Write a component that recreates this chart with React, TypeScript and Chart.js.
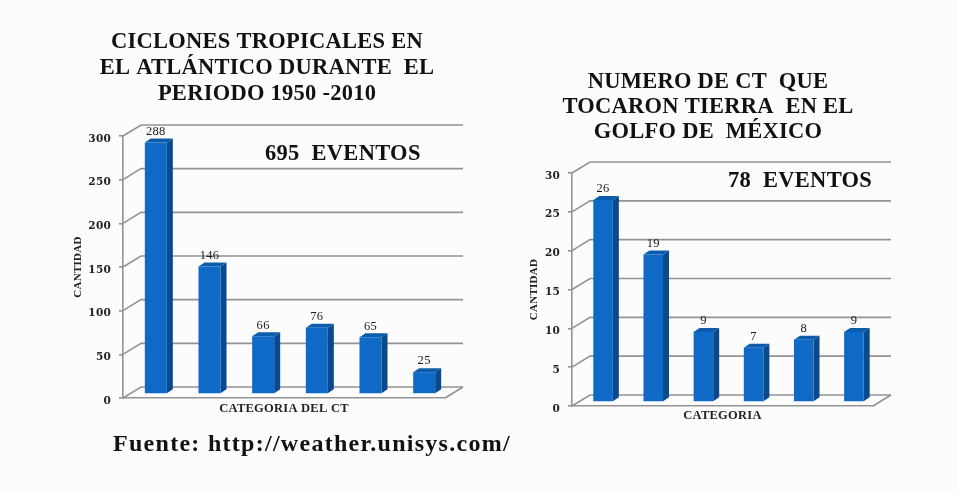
import React, { useEffect, useRef } from "react";
import { Chart, registerables } from "chart.js";

Chart.register(...registerables);

const SERIF = '"Liberation Serif", serif';
const TICK_SERIF = '"DejaVu Serif", serif';
const GRID = "#939393";
const DX = 6;
const DY = -4;
const WALL_X = 18;
const WALL_Y = -11;

const categoriesA = ["1", "2", "3", "4", "5", "6"];
const valuesA = [288, 146, 66, 76, 65, 25];
const titleA = ["CICLONES TROPICALES EN", "EL ATLÁNTICO DURANTE  EL", "PERIODO 1950 -2010"];
const noteA = "695  EVENTOS";

const categoriesB = ["1", "2", "3", "4", "5", "6"];
const valuesB = [26, 19, 9, 7, 8, 9];
const titleB = ["NUMERO DE CT  QUE", "TOCARON TIERRA  EN EL", "GOLFO DE  MÉXICO"];
const noteB = "78  EVENTOS";

const sketch3d = {
  id: "sketch3d",
  afterLayout(chart: any, _a: any, o: any) {
    const t = chart.titleBlock;
    if (t) {
      t.left = o.titleCenter - 300;
      t.right = o.titleCenter + 300;
      t.width = 600;
    }
  },
  beforeDraw(chart: any) {
    chart.ctx.letterSpacing = "0.25px";
  },
  beforeDatasetsDraw(chart: any) {
    const { ctx, chartArea: ca, scales } = chart;
    const y = scales.y;
    ctx.save();
    ctx.strokeStyle = GRID;
    ctx.lineWidth = 1.6;
    y.ticks.forEach((t: any) => {
      const p = y.getPixelForValue(t.value);
      ctx.beginPath();
      ctx.moveTo(ca.left, p);
      ctx.lineTo(ca.left + WALL_X, p + WALL_Y);
      ctx.lineTo(ca.right + WALL_X, p + WALL_Y);
      ctx.stroke();
    });
    const b = y.getPixelForValue(0);
    ctx.beginPath();
    ctx.moveTo(ca.right, b);
    ctx.lineTo(ca.right + WALL_X, b + WALL_Y);
    ctx.stroke();

    chart.getDatasetMeta(0).data.forEach((bar: any) => {
      const l = bar.x - bar.width / 2 + DX;
      const r = bar.x + bar.width / 2 + DX;
      const top = bar.y + DY;
      const bot = bar.base + DY;
      ctx.fillStyle = "#0a4a8c";
      ctx.beginPath();
      ctx.moveTo(r, top);
      ctx.lineTo(r + DX, top + DY);
      ctx.lineTo(r + DX, bot + DY);
      ctx.lineTo(r, bot);
      ctx.closePath();
      ctx.fill();
      ctx.fillStyle = "#0c5cac";
      ctx.beginPath();
      ctx.moveTo(l, top);
      ctx.lineTo(l + DX, top + DY);
      ctx.lineTo(r + DX, top + DY);
      ctx.lineTo(r, top);
      ctx.closePath();
      ctx.fill();
    });
    ctx.restore();
    ctx.save();
    ctx.translate(DX, DY);
  },
  afterDatasetsDraw(chart: any, _a: any, o: any) {
    const { ctx } = chart;
    ctx.restore();
    ctx.save();
    ctx.fillStyle = "#1a1a1a";
    ctx.textAlign = "center";
    ctx.textBaseline = "middle";
    ctx.letterSpacing = "0.3px";
    ctx.font = `12.5px ${SERIF}`;
    const vals = chart.data.datasets[0].data;
    chart.getDatasetMeta(0).data.forEach((bar: any, i: number) => {
      ctx.fillText(String(vals[i]), bar.x + DX, bar.y + 2 * DY - 7);
    });
    ctx.fillStyle = "#111";
    ctx.textAlign = "left";
    ctx.letterSpacing = "0.3px";
    ctx.font = `bold 22.5px ${SERIF}`;
    ctx.fillText(o.note, o.noteX, o.noteY);
    ctx.restore();
  },
};

function makeChart(canvas: HTMLCanvasElement, p: any) {
  return new Chart(canvas, {
    type: "bar",
    data: {
      labels: p.categories,
      datasets: [
        {
          data: p.values,
          backgroundColor: "#0f69c6",
          borderWidth: 0,
          categoryPercentage: 1,
          barPercentage: p.barPct,
          clip: false as any,
        },
      ],
    },
    plugins: [sketch3d],
    options: {
      responsive: false,
      animation: false,
      layout: { padding: { right: p.padRight, left: 0, top: 0, bottom: 0 }, autoPadding: false },
      plugins: {
        legend: { display: false },
        tooltip: { enabled: false },
        title: {
          display: true,
          text: p.title,
          color: "#111",
          font: { family: SERIF, size: 22.5, weight: "bold", lineHeight: p.titleLine / 22.5 },
          padding: { top: p.titleTop, bottom: p.titleBottom },
        },
        sketch3d: { note: p.note, noteX: p.noteX, noteY: p.noteY, titleCenter: p.titleCenter },
      } as any,
      scales: {
        x: {
          afterFit: (s: any) => { s.height = p.xHeight; },
          grid: { display: false },
          border: { display: true, color: GRID, width: 1.6 },
          ticks: { display: false },
          title: {
            display: true,
            text: p.xTitle,
            color: "#222",
            font: { family: SERIF, size: 12.5, weight: "bold" },
            padding: { top: 4, bottom: p.xTitlePad },
          },
        },
        y: {
          min: 0,
          max: p.max,
          afterFit: (s: any) => { s.width = p.yWidth; },
          grid: { drawOnChartArea: false, drawTicks: true, tickLength: 4, color: GRID, lineWidth: 1.6 },
          border: { display: true, color: GRID, width: 1.6 },
          ticks: {
            stepSize: p.step,
            color: "#222",
            padding: 8,
            font: { family: TICK_SERIF, size: 10.5, weight: "bold", lineHeight: 0.55 },
            callback: (v: any) => ["", String(v)],
          },
          title: {
            display: true,
            text: "CANTIDAD",
            color: "#222",
            font: { family: SERIF, size: 11, weight: "bold" },
            padding: { top: p.yTitlePad, bottom: 0 },
          },
        },
      },
    } as any,
  });
}

export default function App() {
  const a = useRef<HTMLCanvasElement>(null);
  const b = useRef<HTMLCanvasElement>(null);
  useEffect(() => {
    const c1 = makeChart(a.current!, {
      categories: categoriesA, values: valuesA, max: 300, step: 50, title: titleA,
      titleTop: 29, titleBottom: 29, titleLine: 26, titleCenter: 207,
      padRight: 27, yWidth: 63, xHeight: 42, xTitlePad: 24,
      xTitle: "CATEGORIA DEL CT", yTitlePad: 12, barPct: 0.41,
      note: noteA, noteX: 205, noteY: 154.5,
    });
    const c2 = makeChart(b.current!, {
      categories: categoriesB, values: valuesB, max: 30, step: 5, title: titleB,
      titleTop: 69.5, titleBottom: 28.5, titleLine: 25, titleCenter: 188,
      padRight: 23, yWidth: 52, xHeight: 34, xTitlePad: 17,
      xTitle: "CATEGORIA", yTitlePad: 8, barPct: 0.39,
      note: noteB, noteX: 208, noteY: 181.5,
    });
    return () => { c1.destroy(); c2.destroy(); };
  }, []);
  const soft = { position: "absolute" as const, filter: "blur(0.4px)" };
  return (
    <div style={{ position: "fixed", left: 0, top: 0, width: 958, height: 494, background: "#fcfcfc", overflow: "hidden" }}>
      <canvas ref={a} width={412} height={440} style={{ ...soft, left: 60, top: 0, width: 412, height: 440 }} />
      <canvas ref={b} width={376} height={440} style={{ ...soft, left: 520, top: 0, width: 376, height: 440 }} />
      <div style={{ ...soft, left: 113, top: 430, fontFamily: SERIF, fontWeight: "bold", fontSize: 24, letterSpacing: 1.28, color: "#111", whiteSpace: "nowrap", lineHeight: "26px" }}>
        Fuente: http://weather.unisys.com/
      </div>
    </div>
  );
}
